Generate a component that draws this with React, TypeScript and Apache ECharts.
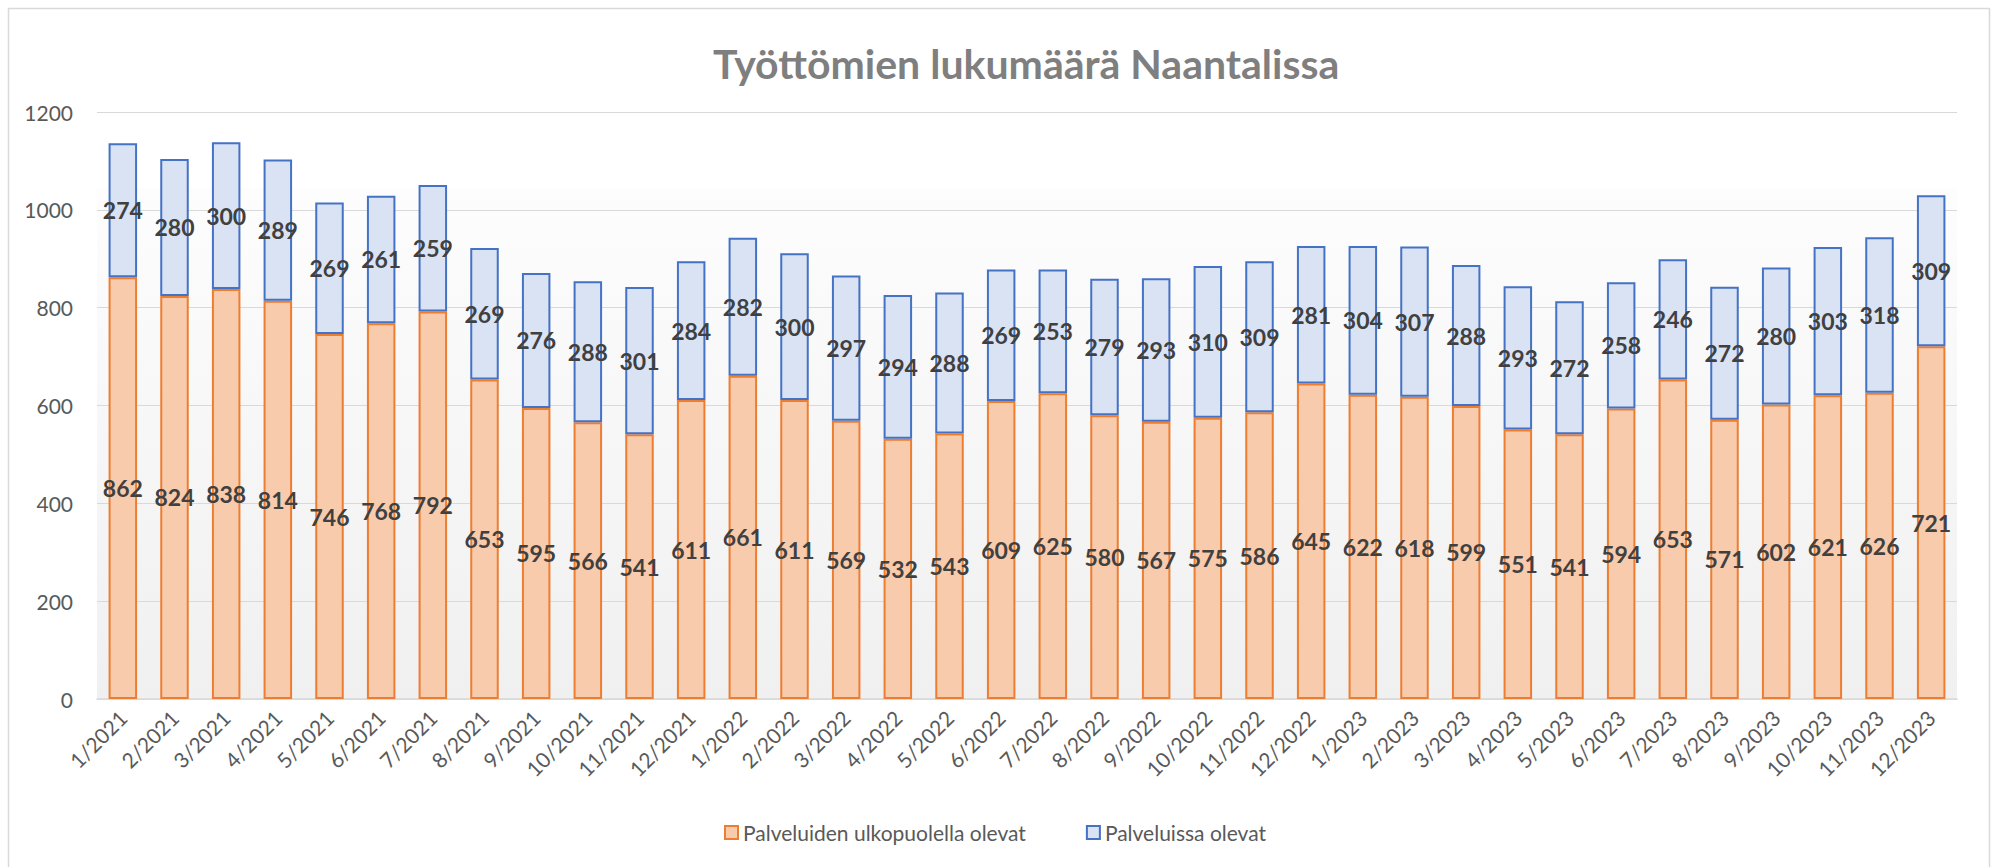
import React, { useEffect, useRef } from "react";
import * as echarts from "echarts";

const categories = [
  "1/2021", "2/2021", "3/2021", "4/2021", "5/2021", "6/2021", "7/2021", "8/2021", "9/2021", "10/2021", "11/2021", "12/2021",
  "1/2022", "2/2022", "3/2022", "4/2022", "5/2022", "6/2022", "7/2022", "8/2022", "9/2022", "10/2022", "11/2022", "12/2022",
  "1/2023", "2/2023", "3/2023", "4/2023", "5/2023", "6/2023", "7/2023", "8/2023", "9/2023", "10/2023", "11/2023", "12/2023",
];

const outsideServices = [
  862, 824, 838, 814, 746, 768, 792, 653, 595, 566, 541, 611,
  661, 611, 569, 532, 543, 609, 625, 580, 567, 575, 586, 645,
  622, 618, 599, 551, 541, 594, 653, 571, 602, 621, 626, 721,
];

const inServices = [
  274, 280, 300, 289, 269, 261, 259, 269, 276, 288, 301, 284,
  282, 300, 297, 294, 288, 269, 253, 279, 293, 310, 309, 281,
  304, 307, 288, 293, 272, 258, 246, 272, 280, 303, 318, 309,
];

const seriesNames = ["Palveluiden ulkopuolella olevat", "Palveluissa olevat"];
const titleText = "Työttömien lukumäärä Naantalissa";

const FONT = "Lato, 'Open Sans', sans-serif";

export default function App() {
  const ref = useRef<HTMLDivElement>(null);

  useEffect(() => {
    if (!ref.current) return;
    const chart = echarts.init(ref.current, null, { renderer: "svg" });

    const labelStyle = {
      show: true,
      position: "inside" as const,
      color: "#404040",
      fontFamily: FONT,
      fontWeight: "bold" as const,
      fontSize: 23,
    };

    chart.setOption({
      animation: false,
      backgroundColor: "#ffffff",
      title: {
        text: titleText,
        left: 708,
        top: 38,
        textStyle: {
          fontFamily: FONT,
          fontWeight: "bold",
          fontSize: 41,
          color: "#7f7f7f",
        },
      },
      graphic: [
        {
          type: "rect",
          left: 6,
          top: 6,
          shape: { width: 1981, height: 860 },
          style: { fill: "none", stroke: "#d9d9d9", lineWidth: 1.5 },
          silent: true,
        },
      ],
      legend: {
        bottom: 19,
        left: 719,
        itemWidth: 13,
        itemHeight: 13,
        itemGap: 60,
        icon: "rect",
        textStyle: { fontFamily: FONT, fontSize: 21, color: "#595959" },
        data: seriesNames,
      },
      grid: {
        left: 97,
        right: 37,
        top: 112,
        bottom: 168,
        show: true,
        borderWidth: 0,
        backgroundColor: new echarts.graphic.LinearGradient(0, 0, 0, 1, [
          { offset: 0, color: "#ffffff" },
          { offset: 0.129, color: "#ffffff" },
          { offset: 0.13, color: "#fdfdfd" },
          { offset: 1, color: "#f0f0f0" },
        ]),
        containLabel: false,
      },
      xAxis: {
        type: "category",
        data: categories,
        axisLine: { show: true, lineStyle: { color: "#d9d9d9", width: 1.5 } },
        axisTick: { show: false },
        axisLabel: {
          rotate: 45,
          margin: 15,
          interval: 0,
          fontFamily: FONT,
          fontSize: 21,
          color: "#595959",
        },
      },
      yAxis: {
        type: "value",
        min: 0,
        max: 1200,
        interval: 200,
        axisLine: { show: false },
        axisTick: { show: false },
        splitLine: { lineStyle: { color: "#d9d9d9", width: 1.2 } },
        axisLabel: {
          margin: 24,
          fontFamily: FONT,
          fontSize: 21,
          color: "#595959",
          formatter: (v: number) => String(v),
        },
      },
      series: [
        {
          name: seriesNames[0],
          type: "bar",
          stack: "total",
          barWidth: 28.5,
          data: outsideServices,
          itemStyle: { color: "#f8cbad", borderColor: "#ed7d31", borderWidth: 2 },
          label: labelStyle,
        },
        {
          name: seriesNames[1],
          type: "bar",
          stack: "total",
          barWidth: 28.5,
          data: inServices,
          itemStyle: { color: "#dae3f3", borderColor: "#4472c4", borderWidth: 2 },
          label: labelStyle,
        },
      ],
    });

    return () => chart.dispose();
  }, []);

  return (
    <div
      ref={ref}
      style={{ position: "fixed", left: 0, top: 0, width: 1994, height: 867 }}
    />
  );
}
